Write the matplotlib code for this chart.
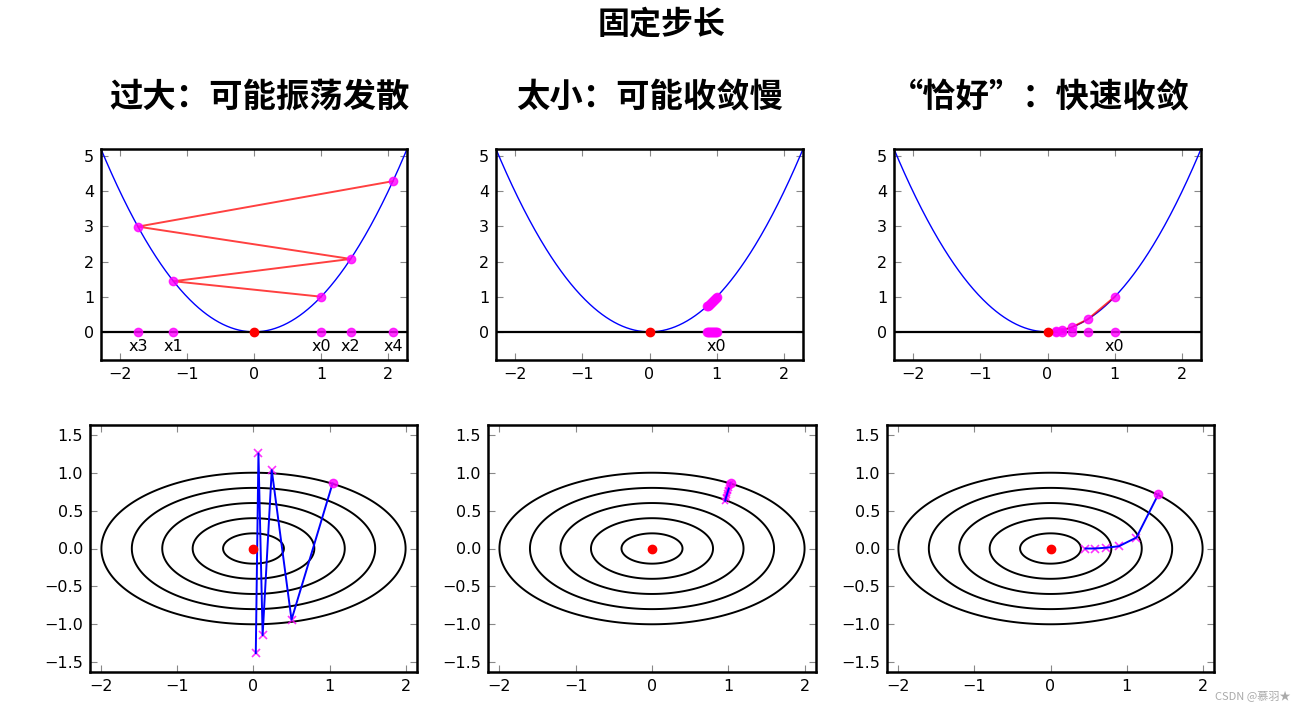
import numpy as np
import matplotlib
matplotlib.use("Agg")
import matplotlib.pyplot as plt

plt.rcParams['font.family'] = ['DejaVu Sans']

# ---------------- data ----------------
suptitle_text = "固定步长"
panel_titles = ["过大：可能振荡发散", "太小：可能收敛慢", "“恰好”：快速收敛"]

# 1-D iterates (top row), f(x) = x^2
x_big = [1.0, -1.2, 1.44, -1.73, 2.07]
x_big_labels = ["x0", "x1", "x2", "x3", "x4"]
x_small = [1.0, 0.985, 0.97, 0.955, 0.94, 0.925, 0.91, 0.895, 0.88, 0.865, 0.85]
x_good = [1.0, 0.6, 0.36, 0.21, 0.13]

# 2-D iterates (bottom row), f(x, y) = x^2/4 + y^2
px_big = [1.04, 0.50, 0.24, 0.12, 0.065, 0.03]
py_big = [0.86, -0.94, 1.035, -1.145, 1.255, -1.38]
px_small = [1.03, 1.023, 1.016, 1.009, 1.002, 0.995, 0.988, 0.981, 0.974, 0.967, 0.96]
py_small = [0.87, 0.847, 0.824, 0.801, 0.778, 0.755, 0.732, 0.709, 0.686, 0.663, 0.63]
px_good = [1.42, 1.13, 0.90, 0.73, 0.58, 0.46]
py_good = [0.72, 0.145, 0.03, 0.01, 0.0, 0.0]

contour_levels = [0.04, 0.16, 0.36, 0.64, 1.0]

top_xticks = [-2, -1, 0, 1, 2]
top_yticks = [0, 1, 2, 3, 4, 5]
bot_xticks = [-2, -1, 0, 1, 2]
bot_yticks = [-1.5, -1.0, -0.5, 0.0, 0.5, 1.0, 1.5]

# ---------------- figure ----------------
W, H = 1293, 707
fig = plt.figure(figsize=(W / 100, H / 100), dpi=100)
fig.patch.set_facecolor("white")

def frac(l, t, r, b):
    return [l / W, 1 - b / H, (r - l) / W, (b - t) / H]

top_boxes = [frac(101, 149, 407, 360), frac(496, 149, 803, 360), frac(894, 149, 1201, 360)]
bot_boxes = [frac(90, 425, 417, 672), frac(488, 425, 816, 672), frac(887, 425, 1214, 672)]

def style_axes(ax):
    for s in ax.spines.values():
        s.set_linewidth(1.8)
        s.set_color("black")
    ax.tick_params(direction="in", top=True, right=True, length=5, width=0.8,
                   color="#888888", labelsize=11.5, pad=5)

xx = np.linspace(-2.4, 2.4, 400)

def top_panel(box, xs, labels):
    ax = fig.add_axes(box)
    style_axes(ax)
    ax.plot(xx, xx ** 2, color="blue", lw=1.0, zorder=2)
    ax.axhline(0, color="black", lw=1.6, zorder=3)
    xs = np.array(xs)
    ax.plot(xs, xs ** 2, color="red", lw=1.4, alpha=0.75, zorder=4)
    ax.plot(xs, xs ** 2, "o", color="magenta", ms=6, mec="magenta", alpha=0.8, zorder=5)
    ax.plot(xs, np.zeros_like(xs), "o", color="magenta", ms=6, mec="magenta", alpha=0.8, zorder=5)
    ax.plot([0], [0], "o", color="red", ms=6, zorder=6)
    for xv, lab in zip(xs, labels):
        ax.text(xv, -0.42, lab, ha="center", va="center", fontsize=11.5)
    ax.set_xlim(-2.28, 2.28)
    ax.set_ylim(-0.8, 5.2)
    ax.set_xticks(top_xticks)
    ax.set_yticks(top_yticks)
    return ax

top_panel(top_boxes[0], x_big, x_big_labels)
top_panel(top_boxes[1], x_small, ["x0"])
top_panel(top_boxes[2], x_good, ["x0"])

gx = np.linspace(-2.3, 2.3, 400)
gy = np.linspace(-1.7, 1.7, 400)
GX, GY = np.meshgrid(gx, gy)
GZ = GX ** 2 / 4 + GY ** 2

def bot_panel(box, px, py, ms=6):
    ax = fig.add_axes(box)
    style_axes(ax)
    ax.contour(GX, GY, GZ, levels=contour_levels, colors="black", linewidths=1.4)
    ax.plot(px[1:], py[1:], "x", color="magenta", ms=ms, mew=1.2, alpha=0.8, zorder=4)
    ax.plot(px, py, color="blue", lw=1.4, zorder=5)
    ax.plot(px[:1], py[:1], "o", color="magenta", ms=6, alpha=0.8, zorder=5)
    ax.plot([0], [0], "o", color="red", ms=6, zorder=6)
    ax.set_xlim(-2.15, 2.15)
    ax.set_ylim(-1.63, 1.63)
    ax.set_xticks(bot_xticks)
    ax.set_yticks(bot_yticks)
    ax.set_yticklabels([f"{v:.1f}".replace("-", "\u2212") for v in bot_yticks])
    return ax

bot_panel(bot_boxes[0], px_big, py_big)
bot_panel(bot_boxes[1], px_small, py_small, ms=4)
bot_panel(bot_boxes[2], px_good, py_good)

cjk = ["Noto Sans CJK SC", "DejaVu Sans"]
fig.text(662 / W, 1 - 24 / H, suptitle_text, ha="center", va="center",
         fontsize=23, fontweight="bold", family=cjk)
for cx, t in zip([260, 650, 1040], panel_titles):
    fig.text(cx / W, 1 - 97 / H, t, ha="center", va="center",
             fontsize=24, fontweight="bold", family=cjk)

fig.text(1291 / W, 1 - 697 / H, "CSDN @慕羽★", ha="right", va="center",
         fontsize=8, color="#aaaaaa", family=cjk)

fig.savefig("out.png", dpi=100, facecolor="white")
